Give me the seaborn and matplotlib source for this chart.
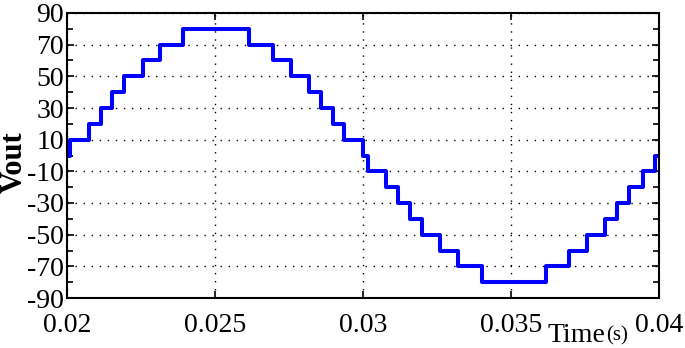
import numpy as np
import pandas as pd
import matplotlib
matplotlib.use("Agg")
import matplotlib.pyplot as plt
import seaborn as sns
from matplotlib.ticker import FixedLocator, FixedFormatter

# step change times (s) and the output level that starts at each time
times = [0.02, 0.0201, 0.02075, 0.02114, 0.02153, 0.02193, 0.02256, 0.02314, 0.02393,
         0.02616, 0.02697, 0.02757, 0.02819, 0.02857, 0.02900, 0.02937, 0.03001,
         0.03018, 0.03077, 0.03119, 0.03159, 0.03198, 0.03260, 0.03322, 0.03401,
         0.03618, 0.03697, 0.03756, 0.03818, 0.03859, 0.03900, 0.03945, 0.03988, 0.04]
levels = [0, 10, 20, 30, 40, 50, 60, 70, 80,
          70, 60, 50, 40, 30, 20, 10, 0,
          -10, -20, -30, -40, -50, -60, -70, -80,
          -70, -60, -50, -40, -30, -20, -10, 0, 0]

xticks = [0.02, 0.025, 0.03, 0.035, 0.04]
xticklabels = ["0.02", "0.025", "0.03", "0.035", "0.04"]
yticks = [-90, -70, -50, -30, -10, 10, 30, 50, 70, 90]
yticklabels = ["-90", "-70", "-50", "-30", "-10", "10", "30", "50", "70", "90"]
yminor = [-80, -60, -40, -20, 0, 20, 40, 60, 80]

df = pd.DataFrame({"t": times, "v": levels})

sns.set_style("ticks")
plt.rcParams["font.family"] = ["Liberation Serif", "DejaVu Serif"]
plt.rcParams["axes.unicode_minus"] = False

fig = plt.figure(figsize=(6.85, 3.48), dpi=100)
ax = fig.add_axes([67/685, 1 - 298/348, (659 - 67)/685, (298 - 13)/348])

sns.lineplot(data=df, x="t", y="v", ax=ax, color="#0000ff", linewidth=2.9,
             drawstyle="steps-post", estimator=None, sort=False)

ax.set_xlim(0.02, 0.04)
ax.set_ylim(-90, 90)
ax.xaxis.set_major_locator(FixedLocator(xticks))
ax.xaxis.set_major_formatter(FixedFormatter(xticklabels))
ax.yaxis.set_major_locator(FixedLocator(yticks))
ax.yaxis.set_major_formatter(FixedFormatter(yticklabels))
ax.yaxis.set_minor_locator(FixedLocator(yminor))

ax.grid(True, which="major", color="black", linestyle=(0, (1, 4.8)), linewidth=1.0)
ax.set_axisbelow(True)

ax.tick_params(axis="both", which="both", direction="in", top=True, right=True,
               color="black", width=1.2)
ax.tick_params(axis="both", which="major", length=5, labelsize=20, labelcolor="black")
ax.tick_params(axis="y", which="minor", length=4)
ax.tick_params(axis="x", which="major", pad=11)
ax.tick_params(axis="y", which="major", pad=2)

for s in ax.spines.values():
    s.set_color("black")
    s.set_linewidth(1.5)
    s.set_visible(True)

ax.set_xlabel("")
ax.set_ylabel("")
fig.text(14/685, 1 - 162/348, "Vout", rotation=90, ha="center", va="center",
         fontsize=22, fontweight="bold", color="black")
fig.text(548/685, 1 - 342/348, "Time", ha="left", va="baseline",
         fontsize=20, color="black")
fig.text(606/685, 1 - 340/348, "(s)", ha="left", va="baseline",
         fontsize=15, color="black")

fig.savefig("out.png", dpi=100)
